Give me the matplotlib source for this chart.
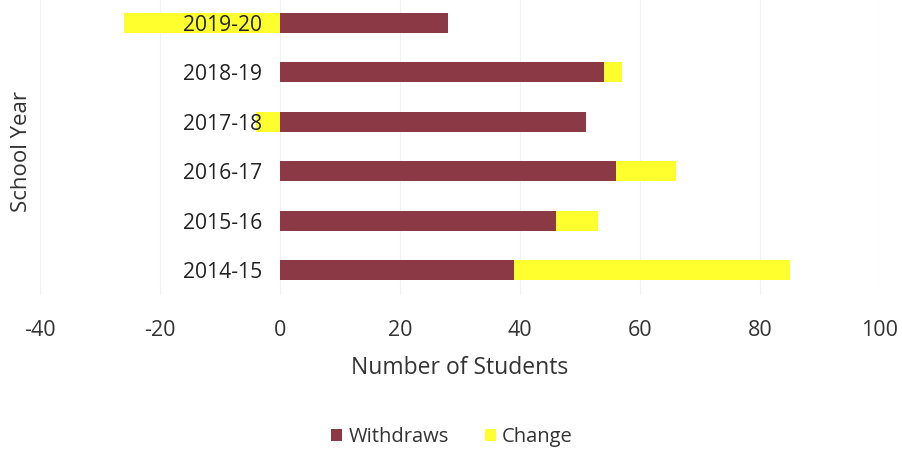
import matplotlib
matplotlib.use("Agg")
import matplotlib.pyplot as plt
import numpy as np

plt.rcParams['font.family'] = ['Open Sans', 'DejaVu Sans']

years = ["2014-15", "2015-16", "2016-17", "2017-18", "2018-19", "2019-20"]
withdraws = [39, 46, 56, 51, 54, 28]
change = [46, 7, 10, -4, 3, -26]
x_ticks = [-40, -20, 0, 20, 40, 60, 80, 100]

maroon = "#8B3A45"
yellow = "#FFFF2E"

fig = plt.figure(figsize=(9.02, 4.49), dpi=100)
ax = fig.add_axes([40/902, 1 - 295/449, 840/902, 297/449])

# The category axis crosses at zero
ax.spines['left'].set_position(('data', 0))
for s in ax.spines.values():
    s.set_visible(False)

pos = np.arange(len(years))
w = np.array(withdraws)
c = np.array(change)
# Positive changes stack onto the withdrawals, negative ones extend left from zero
left = np.where(c > 0, w, 0)

ax.barh(pos, w, height=0.41, color=maroon, label="Withdraws", zorder=1)
ax.barh(pos, c, left=left, height=0.41, color=yellow, label="Change", zorder=1)

for xv in x_ticks:
    ax.axvline(xv, color="#f2f2f2", linewidth=0.8, zorder=0)

ax.set_xlim(-40, 100)
ax.set_ylim(-0.5, len(years) - 0.5)
ax.set_xticks(x_ticks)
ax.set_xticklabels([str(v) for v in x_ticks], fontsize=15.5, color="#333333")
ax.set_yticks(pos)
ax.set_yticklabels(years, fontsize=15.2, color="#222222")

ax.tick_params(axis='both', length=0)
ax.tick_params(axis='y', pad=13)
ax.tick_params(axis='x', pad=18)

ax.set_xlabel("Number of Students", fontsize=16.5, color="#333333", labelpad=11)
fig.text(22/902, 1 - 152/449, "School Year", rotation=90, fontsize=16,
         color="#333333", ha='center', va='center')

fig.legend(loc='center', bbox_to_anchor=(452/902, 1 - 437/449), ncol=2,
           frameon=False, fontsize=14.5, handlelength=0.55, handleheight=0.55,
           handletextpad=0.3, columnspacing=1.8, labelcolor="#333333")

fig.savefig("out.png", dpi=100, facecolor="white")
